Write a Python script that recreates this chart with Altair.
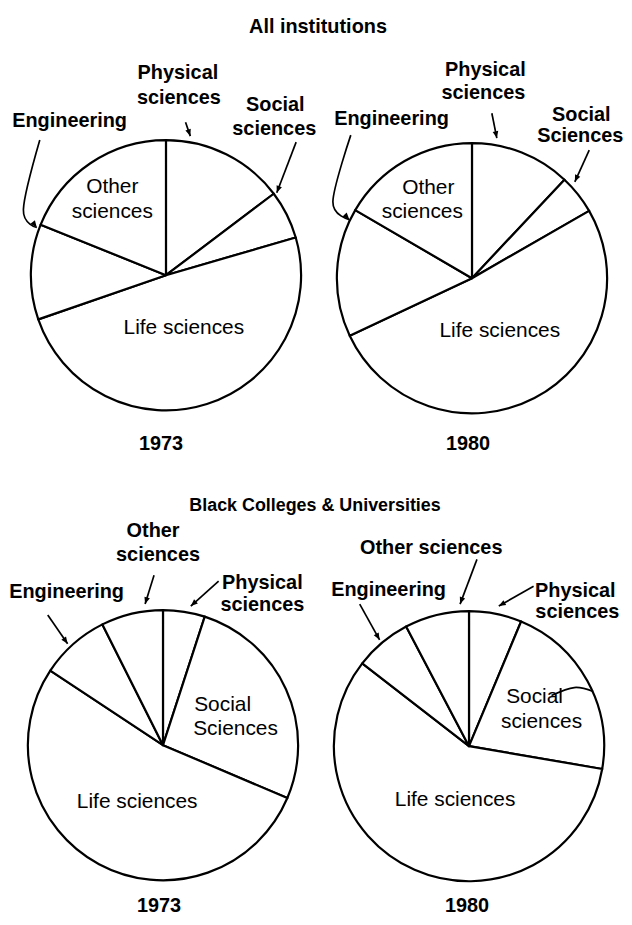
import math
import altair as alt
import pandas as pd

# ---------------- data ----------------
fields = ["Physical sciences", "Social sciences", "Life sciences", "Engineering", "Other sciences"]
all_1973 = [14.7, 5.8, 49.2, 11.4, 18.9]
all_1980 = [12.0, 4.7, 51.3, 15.4, 16.6]
black_1973 = [5.0, 26.4, 52.9, 8.3, 7.4]
black_1980 = [6.3, 21.4, 57.8, 6.8, 7.7]
pie_names = ["all_1973", "all_1980", "black_1973", "black_1980"]
pie_values = [all_1973, all_1980, black_1973, black_1980]

rows = []
for pie, vals in zip(pie_names, pie_values):
    for i, (f, v) in enumerate(zip(fields, vals)):
        rows.append({"pie": pie, "field": f, "value": v, "order": i})
slices = pd.DataFrame(rows)

# ---------------- layout (image pixel coords) ----------------
OFF = 8
R = 136
pie_centers = {
    "all_1973": (167, 274),
    "all_1980": (475, 277),
    "black_1973": (164, 747),
    "black_1980": (472, 748),
}

# text, x (center), y (baseline), style
label_rows = [
    ("All institutions", 320, 30, "title_a"),
    ("Black Colleges & Universities", 317, 511, "title_b"),
    ("1973", 162, 450, "year"), ("1980", 471, 450, "year"),
    ("1973", 160, 915, "year"), ("1980", 470, 915, "year"),
    # top-left outside
    ("Physical", 179, 76.5, "out"), ("sciences", 180, 101.5, "out"),
    ("Social", 277, 109, "out"), ("sciences", 276, 132.5, "out"),
    ("Engineering", 70, 125, "out"),
    # top-right outside
    ("Physical", 488.5, 73, "out"), ("sciences", 486.5, 96.5, "out"),
    ("Engineering", 394, 123, "out"),
    ("Social", 585, 118.5, "out"), ("Sciences", 584, 140, "out"),
    # bottom-left outside
    ("Other", 154, 537, "out"), ("sciences", 159, 562, "out"),
    ("Physical", 264, 590, "out"), ("sciences", 264, 611.5, "out"),
    ("Engineering", 67, 599, "out"),
    # bottom-right outside
    ("Other sciences", 434, 555, "out"),
    ("Engineering", 391, 597, "out"),
    ("Physical", 579, 598, "out"), ("sciences", 581, 619, "out"),
    # inside labels
    ("Other", 113, 191.5, "in"), ("sciences", 113, 216, "in"), ("Life sciences", 185, 333, "in"),
    ("Other", 431, 192, "in"), ("sciences", 425, 216, "in"), ("Life sciences", 503, 336.5, "in"),
    ("Social", 224, 713, "in"), ("Sciences", 237, 737, "in"), ("Life sciences", 138, 810, "in"),
    ("Social", 538, 705, "in"), ("sciences", 545, 730, "in"), ("Life sciences", 458, 808, "in"),
]
labels = pd.DataFrame(
    [{"text": t, "x": x - OFF, "y": y - OFF, "style": s} for t, x, y, s in label_rows]
)
styles = {
    "title_a": (20, "bold"),
    "title_b": (18, "bold"),
    "year": (20, "bold"),
    "out": (20, "bold"),
    "in": (21, "normal"),
}

# leader lines: list of points, last point is the arrow tip (arrow flag)
leader_defs = [
    ([(186.7, 120), (191.5, 134)], True),
    ([(298, 140), (278.5, 191)], True),
    ([(40, 138), (23.5, 208), (37, 226)], True),
    ([(495, 111), (500, 136)], True),
    ([(593, 148), (578.5, 180)], True),
    ([(353, 133), (335, 200), (351.5, 218)], True),
    ([(155, 576), (146, 605)], True),
    ([(220, 582), (192, 607)], True),
    ([(48, 616), (68, 645)], True),
    ([(480, 560), (463, 605)], True),
    ([(537, 587), (502, 607)], True),
    ([(362, 605), (382, 641)], True),
    ([(555, 697), (578, 689), (597, 693)], False),
]
lead_rows, arrow_rows = [], []
for k, (pts, arrow) in enumerate(leader_defs):
    for j, (x, y) in enumerate(pts):
        lead_rows.append({"seg": k, "idx": j, "x": x - OFF, "y": y - OFF})
    if arrow:
        (px, py), (tx, ty) = pts[-2], pts[-1]
        ang = math.degrees(math.atan2(tx - px, -(ty - py))) % 360
        arrow_rows.append({"x": tx - OFF, "y": ty - OFF, "angle": ang})
leaders = pd.DataFrame(lead_rows)
arrows = pd.DataFrame(arrow_rows)

FONT = "Liberation Sans"

layers = []
for pie, (cx, cy) in pie_centers.items():
    layers.append(
        alt.Chart(slices)
        .transform_filter(alt.datum.pie == pie)
        .mark_arc(outerRadius=R, fill="white", stroke="black", strokeWidth=2.2, strokeJoin="round")
        .encode(
            theta=alt.Theta("value:Q", stack=True),
            order=alt.Order("order:Q"),
            x=alt.value(cx - OFF),
            y=alt.value(cy - OFF),
        )
    )

layers.append(
    alt.Chart(leaders)
    .mark_line(color="black", strokeWidth=1.7, interpolate="cardinal")
    .encode(
        x=alt.X("x:Q", scale=None, axis=None),
        y=alt.Y("y:Q", scale=None, axis=None),
        detail="seg:N",
        order="idx:Q",
    )
)
layers.append(
    alt.Chart(arrows)
    .mark_point(shape="M0,0L-0.45,1.1L0.45,1.1Z", filled=True, size=160, color="black", opacity=1)
    .encode(
        x=alt.X("x:Q", scale=None, axis=None),
        y=alt.Y("y:Q", scale=None, axis=None),
        angle=alt.Angle("angle:Q", scale=None),
    )
)

for style, (size, weight) in styles.items():
    layers.append(
        alt.Chart(labels)
        .transform_filter(alt.datum.style == style)
        .mark_text(font=FONT, fontSize=size, fontWeight=weight, align="center",
                   baseline="alphabetic", color="black")
        .encode(
            x=alt.X("x:Q", scale=None, axis=None),
            y=alt.Y("y:Q", scale=None, axis=None),
            text="text:N",
        )
    )

chart = (
    alt.layer(*layers)
    .resolve_scale(theta="independent")
    .properties(width=620, height=909, padding=0, background="white",
                autosize=alt.AutoSizeParams(type="none"))
    .configure_view(stroke=None)
)

chart.save("out.html", embed_options={"renderer": "svg", "actions": False})
